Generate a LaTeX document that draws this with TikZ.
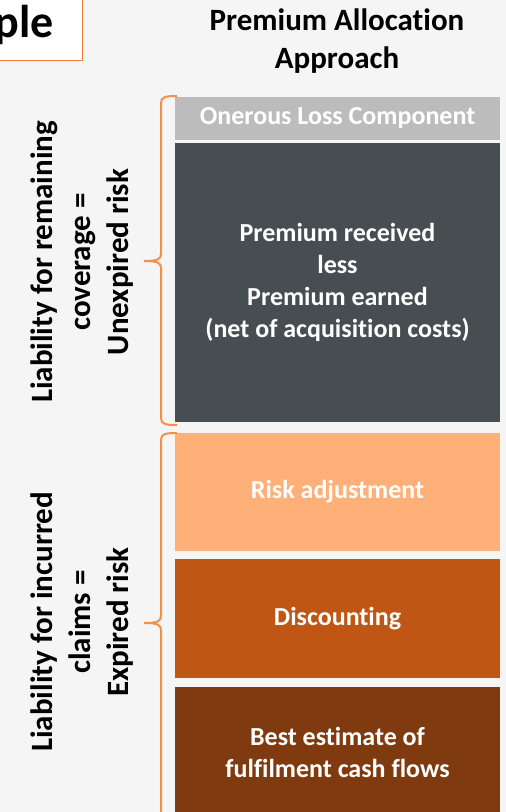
\documentclass[tikz,border=0pt]{standalone}
\usepackage{fontspec}
\setmainfont{Carlito}[Ligatures={NoCommon,NoRare,NoContextual}]
\newcommand{\nt}{t\kern0pt i}
\begin{document}
\begin{tikzpicture}[x=1pt,y=-1pt,
  box/.style={draw=none,inner sep=0pt,minimum width=325pt,text=white,
    font=\bfseries\fontsize{26}{32}\selectfont,align=center},
  sidelabel/.style={rotate=90,align=center,font=\bfseries\fontsize{31}{38}\selectfont,text=black},
  bracket/.style={draw=braceorange,line width=2pt},
]
\definecolor{bg}{HTML}{F5F5F5}
\definecolor{braceorange}{HTML}{F3914B}
\definecolor{titleorange}{HTML}{ED7D31}
\definecolor{olcgray}{HTML}{BBBCBB}
\definecolor{darkslate}{HTML}{474E51}
\definecolor{riskpeach}{HTML}{FFAF78}
\definecolor{discorange}{HTML}{BF5614}
\definecolor{bestbrown}{HTML}{7F3B0F}
\clip (0,0) rectangle (506,812);
\fill[bg] (0,0) rectangle (506,812);
% title tab
\draw[fill=white,draw=titleorange,line width=1.5pt] (-10,-10) rectangle (82.5,60.5);
\node[anchor=base east,inner sep=0pt,font=\bfseries\fontsize{46}{50}\selectfont] (tab) at (54,37) {ple};
% header
\node[align=center,font=\bfseries\fontsize{31}{38}\selectfont] (hdr) at (337,41) {Premium Alloca\nt on\\Approach};
% boxes
\node[box,fill=olcgray,minimum height=43pt] (olc) at (337.5,118.5) {Onerous Loss Component};
\node[box,fill=darkslate,minimum height=279pt] (prem) at (337.5,282.5) {Premium received\\less\\Premium earned\\(net of acquisi\nt on costs)};
\node[box,fill=riskpeach,minimum height=118pt] (risk) at (337.5,492) {Risk adjustment};
\node[box,fill=discorange,minimum height=119pt] (disc) at (337.5,618.5) {Discoun\nt ng};
\node[box,fill=bestbrown,minimum height=130pt] (best) at (337.5,752) {Best esti\kern0pt mate of\\fulf\kern0pt ilment cash f\kern0pt lows};
% braces
\draw[bracket] (177,96) .. controls (165,96) and (161,97) .. (161,103) -- (161,254)
  .. controls (161,259) and (158,261) .. (144,261)
  .. controls (158,261) and (161,263) .. (161,268) -- (161,418)
  .. controls (161,424) and (165,425) .. (177,425);
\draw[bracket] (177,433) .. controls (165,433) and (161,434) .. (161,440) -- (161,616)
  .. controls (161,621) and (158,623) .. (144,623)
  .. controls (158,623) and (161,625) .. (161,630) -- (161,830);
% side labels
\node[sidelabel] (lrc) at (82,262) {Liability for remaining\\coverage =\\Unexpired risk};
\node[sidelabel] (lic) at (82,622) {Liability for incurred\\claims =\\Expired risk};
\end{tikzpicture}
\end{document}
